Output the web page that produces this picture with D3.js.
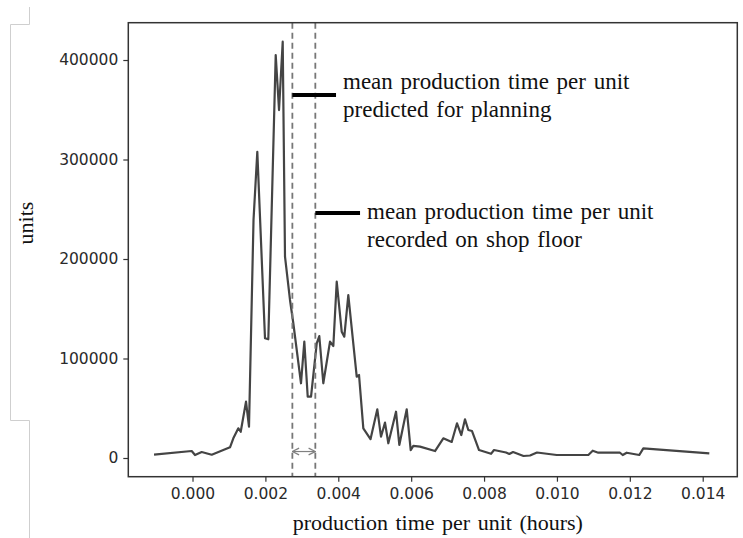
<!DOCTYPE html>
<html><head><meta charset="utf-8">
<script src="https://cdn.jsdelivr.net/npm/d3@7"></script>
<style>
html,body{margin:0;padding:0;background:#fff;}
svg{display:block;}
</style></head>
<body>
<svg id="chart" width="743" height="538"></svg>
<script>
// production time per unit (hours)
const hours = [-0.001056,-0.000022,0.0000686,0.000252,0.000527,0.001029,0.00112,0.001257,0.001323,0.001468,
0.00155,0.001674,0.001778,0.001989,0.00208,0.002283,0.002374,0.002475,0.002538,0.002675,
0.002766,0.002977,0.003068,0.003161,0.003252,0.003408,0.003479,0.003589,0.003773,0.003864,
0.003957,0.004094,0.004165,0.004275,0.004506,0.004569,0.004687,0.004884,0.005071,0.005172,
0.005282,0.005373,0.005584,0.005675,0.005878,0.005987,0.006059,0.006243,0.006654,0.006882,
0.007112,0.007258,0.007376,0.007477,0.007568,0.00767,0.007862,0.008191,0.008273,0.008603,
0.008693,0.008795,0.009083,0.009261,0.009453,0.009994,0.010861,0.010982,0.011135,0.01173,
0.011805,0.011914,0.01226,0.01237,0.014181];
// units
const units = [3300,7000,3000,6000,3300,10750,19800,29850,26400,56600,
31500,239200,307800,120300,119300,405000,349700,418400,202300,158800,
135400,75100,116900,61600,61600,115300,122600,75100,116900,112600,
177200,126900,121900,163800,81700,83400,29800,18900,48900,21400,
35500,14800,46500,13100,48900,8000,12100,11400,7000,19800,
16100,34900,23100,38900,28100,27100,8000,4200,8000,5500,
4000,6000,2000,2500,5500,3000,3000,7300,5300,5300,
3000,5300,3000,9700,4700];

const xTicks = [0.000,0.002,0.004,0.006,0.008,0.010,0.012,0.014];
const yTicks = [0,100000,200000,300000,400000];
const meanLines = [0.00274, 0.00337];          // predicted, recorded
const annotationY = [364800, 246200];          // marker heights
const annotationEnd = [0.003938, 0.004597];    // marker end (hours)
const annotationText = [
  ["mean production time per unit","predicted for planning"],
  ["mean production time per unit","recorded on shop floor"]
];
const annotationShift = [-6.5, 5.5];
const arrowY = 6500;

const svg = d3.select("#chart");
const L=128.3, R=737.3, T=22.7, B=476.7;
const x = d3.scaleLinear().domain([-0.001762,0.014949]).range([L,R]);
const y = d3.scaleLinear().domain([-18800,437500]).range([B,T]);

// faint artifacts on the left
const art = svg.append("g").attr("stroke","#cfcfcf").attr("stroke-width",1).attr("fill","none");
art.append("path").attr("d","M29.5,7V24.5H10.5V420.5H29.5V538");

// line
const data = hours.map((h,i)=>[h,units[i]]);
svg.append("path").datum(data)
  .attr("fill","none").attr("stroke","#444").attr("stroke-width",2.2)
  .attr("stroke-linejoin","round")
  .attr("d", d3.line().x(d=>x(d[0])).y(d=>y(d[1])));

// dashed mean lines
svg.selectAll("line.mean").data(meanLines).enter().append("line")
  .attr("class","mean")
  .attr("x1",d=>x(d)).attr("x2",d=>x(d)).attr("y1",T).attr("y2",B)
  .attr("stroke","#777").attr("stroke-width",1.8).attr("stroke-dasharray","6,4");

// arrow between means
const defs = svg.append("defs");
defs.append("marker").attr("id","ah").attr("viewBox","0 0 10 10").attr("refX",9).attr("refY",5)
  .attr("markerWidth",7).attr("markerHeight",7).attr("orient","auto-start-reverse")
  .append("path").attr("d","M1,1L9,5L1,9").attr("fill","none").attr("stroke","#808080").attr("stroke-width",1.5);
svg.append("line")
  .attr("x1",x(meanLines[0])).attr("x2",x(meanLines[1]))
  .attr("y1",y(arrowY)).attr("y2",y(arrowY))
  .attr("stroke","#808080").attr("stroke-width",1.2)
  .attr("marker-start","url(#ah)").attr("marker-end","url(#ah)");

// axes frame
svg.append("rect").attr("x",L).attr("y",T).attr("width",R-L).attr("height",B-T)
  .attr("fill","none").attr("stroke","#333").attr("stroke-width",1.5);

const xAxis = svg.append("g").attr("transform",`translate(0,${B})`)
  .call(d3.axisBottom(x).tickValues(xTicks).tickFormat(d3.format(".3f")).tickSize(5).tickPadding(6));
const yAxis = svg.append("g").attr("transform",`translate(${L},0)`)
  .call(d3.axisLeft(y).tickValues(yTicks).tickFormat(d3.format("d")).tickSize(5).tickPadding(5));
[xAxis,yAxis].forEach(a=>{
  a.select(".domain").remove();
  a.selectAll(".tick line").attr("stroke","#333").attr("stroke-width",1.2);
  a.selectAll(".tick text").attr("fill","#2a2a2a")
    .style("font-family","'DejaVu Sans', sans-serif").style("font-size","15.5px");
});

// annotation markers and texts
annotationY.forEach((v,i)=>{
  svg.append("line").attr("x1",x(meanLines[i])).attr("x2",x(annotationEnd[i]))
    .attr("y1",y(v)).attr("y2",y(v)).attr("stroke","#000").attr("stroke-width",4);
  const t = svg.append("text").attr("x",x(annotationEnd[i])+7).attr("y",y(v)+annotationShift[i])
    .style("font-family","'Liberation Serif', 'Times New Roman', serif")
    .style("font-size","23px").style("word-spacing","2px").attr("fill","#111");
  annotationText[i].forEach((s,j)=>{
    t.append("tspan").attr("x",x(annotationEnd[i])+7).attr("dy", j===0?0:28.5).text(s);
  });
});

// axis labels
svg.append("text").attr("x",(L+R)/2+5).attr("y",530)
  .attr("text-anchor","middle")
  .style("font-family","'Liberation Serif', 'Times New Roman', serif")
  .style("font-size","22px").style("word-spacing","2px").attr("fill","#111")
  .text("production time per unit (hours)");
svg.append("text").attr("transform","translate(33,223) rotate(-90)")
  .attr("text-anchor","middle")
  .style("font-family","'Liberation Serif', 'Times New Roman', serif")
  .style("font-size","22px").attr("fill","#111")
  .text("units");
</script>
</body></html>
